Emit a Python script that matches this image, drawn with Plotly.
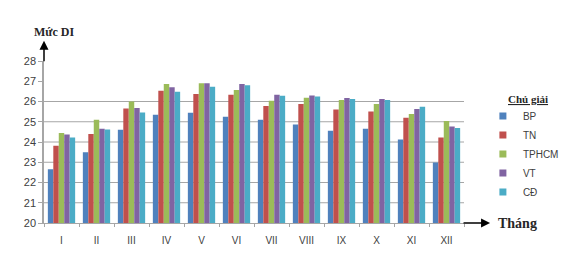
import plotly.graph_objects as go

months = ["I", "II", "III", "IV", "V", "VI", "VII", "VIII", "IX", "X", "XI", "XII"]
BP = [22.65, 23.5, 24.6, 25.35, 25.45, 25.25, 25.1, 24.86, 24.55, 24.65, 24.12, 22.99]
TN = [23.82, 24.4, 25.66, 26.53, 26.37, 26.33, 25.78, 25.88, 25.6, 25.51, 25.2, 24.22]
TPHCM = [24.45, 25.1, 26.0, 26.86, 26.9, 26.57, 26.04, 26.19, 26.07, 25.88, 25.38, 25.04]
VT = [24.37, 24.66, 25.68, 26.7, 26.9, 26.86, 26.33, 26.3, 26.17, 26.12, 25.63, 24.76]
CD = [24.22, 24.62, 25.46, 26.48, 26.73, 26.8, 26.28, 26.25, 26.12, 26.07, 25.74, 24.69]

series = [("BP", BP, "#4F81BD"), ("TN", TN, "#C0504D"), ("TPHCM", TPHCM, "#9BBB59"),
          ("VT", VT, "#8064A2"), ("CĐ", CD, "#4BACC6")]
yticks = [20, 21, 22, 23, 24, 25, 26, 27, 28]
grid_levels = [21, 22, 23, 24, 25, 26]

fig = go.Figure()
for name, vals, col in series:
    fig.add_trace(go.Bar(x=months, y=vals, name=name, marker=dict(color=col, line=dict(width=0)),
                         showlegend=False, legendgroup=name))
for name, vals, col in series:
    fig.add_trace(go.Scatter(x=[None], y=[None], mode="markers", name=name, legendgroup=name,
                             marker=dict(symbol="square", size=7, color=col)))

for g in grid_levels:
    fig.add_shape(type="line", xref="paper", yref="y", x0=0, x1=1, y0=g, y1=g,
                  line=dict(color="#A6A6A6", width=1), layer="below")

fig.update_layout(
    width=576, height=265,
    margin=dict(l=44, r=106, t=61, b=42),
    paper_bgcolor="white", plot_bgcolor="white",
    barmode="group", bargap=0.22, bargroupgap=0,
    font=dict(family="Liberation Sans", size=10, color="#404040"),
    xaxis=dict(type="category", showline=True, linecolor="#A6A6A6", linewidth=1,
               ticks="outside", ticklen=3, tickcolor="#A6A6A6", tickson="boundaries",
               ticklabelstandoff=8,
               showgrid=False, tickfont=dict(family="Liberation Sans", size=10, color="#404040")),
    yaxis=dict(range=[20, 28], tickvals=yticks, showline=True, linecolor="#A6A6A6", linewidth=1.5,
               ticks="outside", ticklen=4, tickcolor="#A6A6A6", showgrid=False, zeroline=False,
               tickfont=dict(family="Liberation Sans", size=11, color="#404040")),
    legend=dict(x=1.045, y=0.75, xanchor="left", yanchor="top",
                font=dict(family="Liberation Sans", size=10, color="#404040"),
                itemwidth=30, tracegroupgap=0, bgcolor="rgba(0,0,0,0)"),
)

# legend heading
fig.add_annotation(xref="paper", yref="paper", x=1.10, y=0.765, xanchor="left", yanchor="middle",
                   text="<b><u>Chủ giải</u></b>", showarrow=False,
                   font=dict(family="Liberation Serif", size=11, color="#262626"))

# axis arrows
fig.add_annotation(xref="paper", yref="paper", x=0, y=1.125, ax=0, ay=22, axref="pixel", ayref="pixel",
                   showarrow=True, arrowhead=2, arrowsize=1.2, arrowwidth=1.5, arrowcolor="black", text="")
fig.add_annotation(xref="paper", yref="paper", x=1.062, y=0, ax=-28, ay=0,
                   showarrow=True, arrowhead=2, arrowsize=1.2, arrowwidth=1.5, arrowcolor="black", text="")
fig.add_annotation(xref="paper", yref="paper", x=-0.028, y=1.18, xanchor="left", yanchor="middle",
                   text="<b>Mức DI</b>", showarrow=False,
                   font=dict(family="Liberation Serif", size=12, color="#262626"))
fig.add_annotation(xref="paper", yref="paper", x=1.075, y=0, xanchor="left", yanchor="middle",
                   text="<b>Tháng</b>", showarrow=False,
                   font=dict(family="Liberation Serif", size=14, color="#262626"))

fig.write_html("out.html")
